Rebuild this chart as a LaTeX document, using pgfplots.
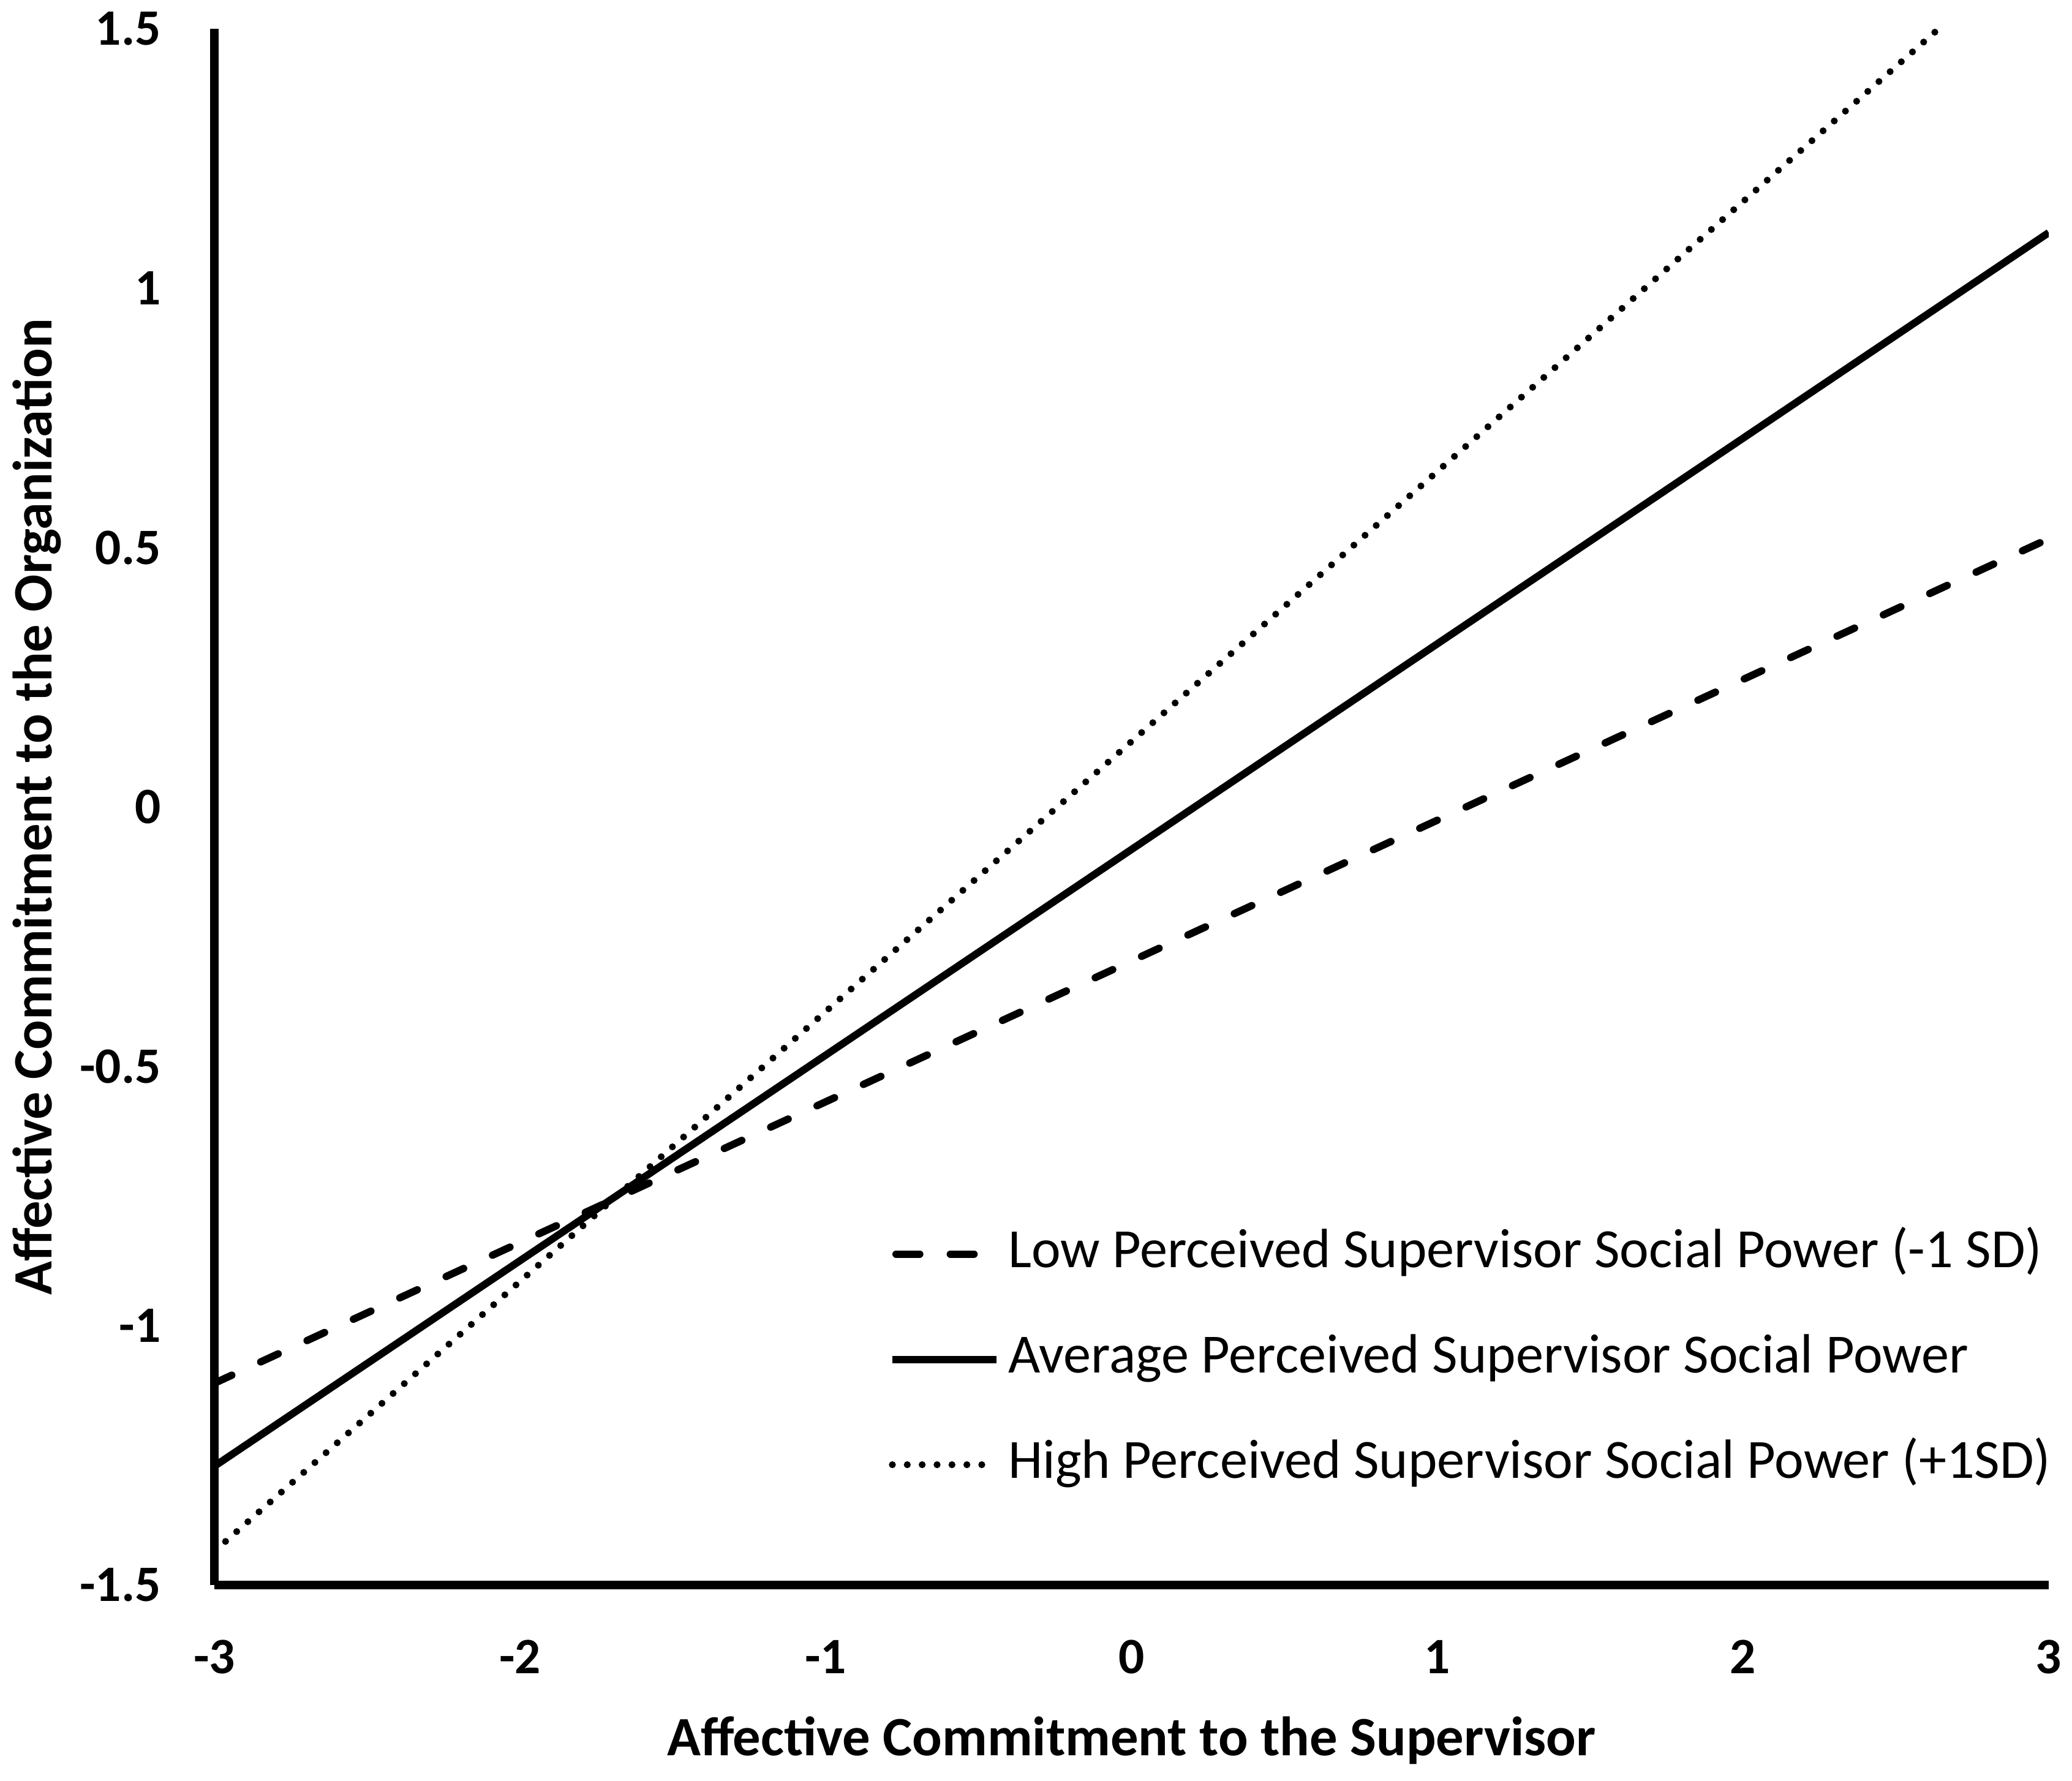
\documentclass[border=0pt]{standalone}
\usepackage{pgfplots}
\pgfplotsset{compat=1.18}
\usepackage{fontspec}
\setmainfont{Carlito}
\pgfplotsset{dashlegend/.style={legend image code/.code={\draw[##1, dash pattern=on 5.8pt off 7.5pt] (0.9pt,0pt) -- (20pt,0pt); \path[draw=none] (0pt,0pt) -- (25.5pt,0pt);}}}
\begin{document}
\begin{tikzpicture}
\begin{axis}[
  scale only axis,
  width=449.25pt, height=381.15pt,
  xmin=-3, xmax=3, ymin=-1.5, ymax=1.5,
  axis lines=left,
  axis line style={-, line width=2pt, black},
  xtick={-3,-2,-1,0,1,2,3},
  xticklabels={-3,-2,-1,0,1,2,3},
  ytick={-1.5,-1,-0.5,0,0.5,1,1.5},
  yticklabels={-1.5,-1,-0.5,0,0.5,1,1.5},
  major tick length=0pt,
  tick style={draw=none},
  ticklabel style={font=\bfseries\fontsize{12.5}{15}\selectfont, inner sep=0pt},
  xticklabel style={anchor=center, yshift=-17.55pt},
  yticklabel style={anchor=east, xshift=-12.9pt},
  xlabel={Affective Commitment to the Supervisor},
  ylabel={Affective Commitment to the Organization},
  every axis x label/.style={at={(axis description cs:0.5,0)}, anchor=center, yshift=-38pt, font=\bfseries\fontsize{13.6}{16}\selectfont},
  every axis y label/.style={at={(axis description cs:-0.0966,0.5)}, rotate=90, anchor=center, font=\bfseries\fontsize{13.6}{16}\selectfont},
  legend cell align=left,
  legend image code/.code={\draw[#1] (0pt,0pt) -- (25.5pt,0pt);},
  legend style={at={(axis description cs:0.3676,0.145)}, anchor=west, draw=none, fill=none,
    inner sep=0pt, outer sep=0pt, row sep=13.3pt, column sep=2pt,
    nodes={inner sep=0pt, text height=9.5pt, text depth=3pt},
    font=\fontsize{13.55}{16}\selectfont},
]
\addplot[black, line width=1.8pt, line cap=round, dash pattern=on 4.7pt off 7.8pt, dashlegend]
  coordinates {(-3,-1.111) (3,0.517)};
\addlegendentry{Low Perceived Supervisor Social Power (-1 SD)}
\addplot[black, line width=1.8pt] coordinates {(-3,-1.271) (3,1.107)};
\addlegendentry{Average Perceived Supervisor Social Power}
\addplot[black, line width=1.7pt, line cap=round, dash pattern=on 0pt off 3.65pt] coordinates {(-3,-1.435) (2.64,1.5)};
\addlegendentry{High Perceived Supervisor Social Power (+1SD)}
\end{axis}
\pgfresetboundingbox
\path (current axis.south west) ++(-52.5pt,-47.85pt) rectangle ([xshift=5.7pt,yshift=7.05pt]current axis.north east);
\end{tikzpicture}
\end{document}
